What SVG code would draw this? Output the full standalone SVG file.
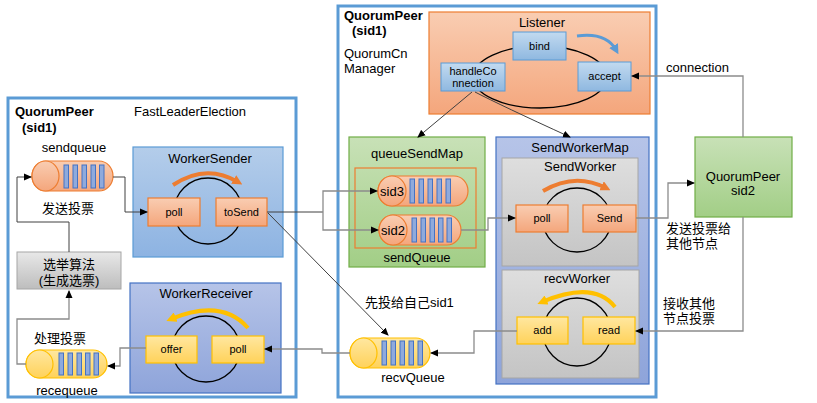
<svg xmlns="http://www.w3.org/2000/svg" width="817" height="403" viewBox="0 0 817 403">
<defs>
<linearGradient id="gOr" x1="0" y1="0" x2="0" y2="1"><stop offset="0" stop-color="#f9cdb2"/><stop offset="1" stop-color="#f4a67c"/></linearGradient>
<linearGradient id="gBl" x1="0" y1="0" x2="0" y2="1"><stop offset="0" stop-color="#b4cdea"/><stop offset="1" stop-color="#8db3e2"/></linearGradient>
<linearGradient id="gPu" x1="0" y1="0" x2="0" y2="1"><stop offset="0" stop-color="#b6c4e8"/><stop offset="1" stop-color="#8ea4da"/></linearGradient>
<linearGradient id="gGr" x1="0" y1="0" x2="0" y2="1"><stop offset="0" stop-color="#dedede"/><stop offset="1" stop-color="#c4c4c4"/></linearGradient>
<linearGradient id="gGn" x1="0" y1="0" x2="0" y2="1"><stop offset="0" stop-color="#c8e1b7"/><stop offset="1" stop-color="#a2ce86"/></linearGradient>
<linearGradient id="gYe" x1="0" y1="0" x2="0" y2="1"><stop offset="0" stop-color="#ffe7a0"/><stop offset="1" stop-color="#ffd25a"/></linearGradient>
<linearGradient id="gSb" x1="0" y1="0" x2="0" y2="1"><stop offset="0" stop-color="#c2daf0"/><stop offset="1" stop-color="#8fb8e0"/></linearGradient>
<linearGradient id="gGb" x1="0" y1="0" x2="0" y2="1"><stop offset="0" stop-color="#e8e8e8"/><stop offset="1" stop-color="#bdbdbd"/></linearGradient>
<marker id="arr" markerWidth="8" markerHeight="8" refX="7" refY="4" orient="auto" markerUnits="userSpaceOnUse"><path d="M0,0.5 L8,4 L0,7.5 z" fill="#000"/></marker>
<marker id="arrO" markerWidth="10" markerHeight="10" refX="5" refY="5" orient="auto" markerUnits="userSpaceOnUse"><path d="M0,0 L10,5 L0,10 z" fill="#ed7d31"/></marker>
<marker id="arrY" markerWidth="10" markerHeight="10" refX="5" refY="5" orient="auto" markerUnits="userSpaceOnUse"><path d="M0,0 L10,5 L0,10 z" fill="#ffc000"/></marker>
<marker id="arrB" markerWidth="10" markerHeight="10" refX="5" refY="5" orient="auto" markerUnits="userSpaceOnUse"><path d="M0,0 L10,5 L0,10 z" fill="#5b9bd5"/></marker>
</defs>
<style>
text{font-family:"Liberation Sans","Noto Sans CJK SC",Arial,sans-serif;fill:#000}
.t13{font-size:13px}
.b13{font-size:13px;font-weight:bold}
.t11{font-size:11px}
.c{text-anchor:middle}
.outer{fill:#fff;stroke:#5b9bd5;stroke-width:3}
.or{fill:url(#gOr);stroke:#ed7d31;stroke-width:1.2}
.ye{fill:url(#gYe);stroke:#ffc000;stroke-width:1.2}
.sb{fill:url(#gSb);stroke:#5b9bd5;stroke-width:1}
.bar{fill:#8faadc;stroke:#4472c4;stroke-width:1}
.loop{fill:none;stroke:#000;stroke-width:1.3}
.ln{fill:none;stroke:#404040;stroke-width:1}
.lg{fill:none;stroke:#8c8c8c;stroke-width:1.3}
</style>

<g id="left-frame">
<rect class="outer" x="8" y="98" width="288" height="299"/>
<text class="b13" x="15" y="116">QuorumPeer</text>
<text class="b13" x="22" y="132">(sid1)</text>
<text class="t13" x="134" y="116">FastLeaderElection</text>
</g>

<g id="mid-frame">
<rect class="outer" x="338" y="6" width="318" height="391"/>
<text class="b13" x="344" y="20">QuorumPeer</text>
<text class="b13" x="352" y="35">(sid1)</text>
<text class="t13" x="344" y="58">QuorumCn</text>
<text class="t13" x="344" y="73">Manager</text>
</g>

<g id="sendqueue">
<text class="t13 c" x="74" y="152">sendqueue</text>
<rect class="or" x="32" y="161" width="81" height="30" rx="14" ry="15"/>
<ellipse class="or" cx="45.5" cy="176" rx="13.5" ry="15"/>
<rect class="bar" x="64" y="165" width="4.5" height="23"/>
<rect class="bar" x="73" y="165" width="4.5" height="23"/>
<rect class="bar" x="82" y="165" width="4.5" height="23"/>
<rect class="bar" x="91" y="165" width="4.5" height="23"/>
<rect class="bar" x="99.5" y="165" width="4.5" height="23"/>
</g>

<g id="label-send">
<text class="t13" x="42" y="213">发送投票</text>
</g>

<g id="election">
<rect x="17" y="252" width="104" height="37" fill="url(#gGb)" stroke="#a6a6a6" stroke-width="1"/>
<text class="t13 c" x="69" y="269">选举算法</text>
<text class="t13 c" x="69" y="285">(生成选票)</text>
</g>

<g id="label-handle">
<text class="t13" x="34" y="343">处理投票</text>
</g>

<g id="recequeue">
<rect class="ye" x="26" y="350" width="81" height="28" rx="14" ry="14"/>
<ellipse class="ye" cx="39.5" cy="364" rx="13.5" ry="14"/>
<rect class="bar" x="59" y="353" width="4.5" height="22"/>
<rect class="bar" x="68" y="353" width="4.5" height="22"/>
<rect class="bar" x="77" y="353" width="4.5" height="22"/>
<rect class="bar" x="85.5" y="353" width="4.5" height="22"/>
<rect class="bar" x="94" y="353" width="4.5" height="22"/>
<text class="t13 c" x="67" y="395">recequeue</text>
</g>

<g id="WorkerSender">
<rect x="133" y="147" width="150" height="110" fill="url(#gBl)" stroke="#5b9bd5" stroke-width="1.2"/>
<text class="t13 c" x="210" y="163">WorkerSender</text>
<ellipse class="loop" cx="208" cy="211" rx="34" ry="33"/>
<path d="M173,185 Q206,163 238,182" fill="none" stroke="#ed7d31" stroke-width="4" marker-end="url(#arrO)"/>
<rect class="or" x="148" y="198" width="52" height="28"/>
<text class="t11 c" x="174" y="216">poll</text>
<rect class="or" x="216" y="198" width="51" height="28"/>
<text class="t11 c" x="241.5" y="216">toSend</text>
</g>

<g id="WorkerReceiver">
<rect x="130" y="283" width="151" height="110" fill="url(#gPu)" stroke="#4472c4" stroke-width="1.2"/>
<text class="t13 c" x="206" y="298">WorkerReceiver</text>
<ellipse class="loop" cx="206" cy="349" rx="34" ry="33"/>
<path d="M248,328 Q222,298 171,319" fill="none" stroke="#ffc000" stroke-width="4" marker-end="url(#arrY)"/>
<rect class="ye" x="146" y="336" width="51" height="27"/>
<text class="t11 c" x="171.5" y="353">offer</text>
<rect class="ye" x="212" y="336" width="52" height="27"/>
<text class="t11 c" x="238" y="353">poll</text>
</g>

<g id="Listener">
<rect x="429" y="12" width="221" height="102" fill="url(#gOr)" stroke="#ed7d31" stroke-width="1.2"/>
<text class="t13 c" x="542" y="27">Listener</text>
<ellipse class="loop" cx="540" cy="77" rx="67" ry="31"/>
<path d="M577,36 Q606,32 616,50" fill="none" stroke="#5b9bd5" stroke-width="3" marker-end="url(#arrB)"/>
<rect class="sb" x="513" y="32" width="53" height="28"/>
<text class="t11 c" x="539.5" y="50">bind</text>
<rect class="sb" x="441" y="63" width="64" height="28"/>
<text class="t11 c" x="473" y="75">handleCo</text>
<text class="t11 c" x="473" y="87">nnection</text>
<rect class="sb" x="578" y="62" width="53" height="29"/>
<text class="t11 c" x="604.5" y="80">accept</text>
</g>

<g id="queueSendMap">
<rect x="349" y="137" width="136" height="130" fill="url(#gGn)" stroke="#70ad47" stroke-width="1.2"/>
<text class="t13 c" x="417" y="158">queueSendMap</text>
<rect x="355" y="168" width="121" height="80" fill="none" stroke="#ed7d31" stroke-width="1.2"/>
<text class="t13 c" x="417" y="262">sendQueue</text>
</g>

<g id="sid3">
<rect class="or" x="378" y="176" width="90" height="30" rx="14" ry="15"/>
<ellipse class="or" cx="392" cy="191" rx="14" ry="15"/>
<rect class="bar" x="410" y="179" width="4.5" height="24"/>
<rect class="bar" x="419" y="179" width="4.5" height="24"/>
<rect class="bar" x="428" y="179" width="4.5" height="24"/>
<rect class="bar" x="437" y="179" width="4.5" height="24"/>
<rect class="bar" x="446" y="179" width="4.5" height="24"/>
<text class="t13 c" x="392" y="196">sid3</text>
</g>

<g id="sid2">
<rect class="or" x="379" y="215" width="82" height="30" rx="14" ry="15"/>
<ellipse class="or" cx="393" cy="230" rx="14" ry="15"/>
<rect class="bar" x="412" y="218" width="4.5" height="24"/>
<rect class="bar" x="421" y="218" width="4.5" height="24"/>
<rect class="bar" x="430" y="218" width="4.5" height="24"/>
<rect class="bar" x="438.5" y="218" width="4.5" height="24"/>
<rect class="bar" x="447" y="218" width="4.5" height="24"/>
<text class="t13 c" x="393" y="235">sid2</text>
</g>

<g id="recvQueue">
<rect class="ye" x="350" y="338" width="80" height="30" rx="14" ry="15"/>
<ellipse class="ye" cx="363.5" cy="353" rx="13.5" ry="15"/>
<rect class="bar" x="382" y="341" width="4.5" height="24"/>
<rect class="bar" x="391" y="341" width="4.5" height="24"/>
<rect class="bar" x="400" y="341" width="4.5" height="24"/>
<rect class="bar" x="409" y="341" width="4.5" height="24"/>
<rect class="bar" x="418" y="341" width="4.5" height="24"/>
<text class="t13 c" x="413" y="382">recvQueue</text>
</g>

<g id="label-self">
<text class="t13" x="365" y="307">先投给自己sid1</text>
</g>

<g id="SendWorkerMap">
<rect x="496" y="137" width="153" height="247" fill="url(#gPu)" stroke="#4472c4" stroke-width="1.2"/>
<text class="t13 c" x="580" y="152">SendWorkerMap</text>
</g>

<g id="SendWorker">
<rect x="502" y="158" width="136" height="108" fill="url(#gGr)" stroke="#a6a6a6" stroke-width="1"/>
<text class="t13 c" x="580" y="171">SendWorker</text>
<ellipse class="loop" cx="577" cy="220" rx="34" ry="32"/>
<path d="M543,191 Q575,172 606,188" fill="none" stroke="#ed7d31" stroke-width="4" marker-end="url(#arrO)"/>
<rect class="or" x="516" y="205" width="52" height="27"/>
<text class="t11 c" x="542" y="222">poll</text>
<rect class="or" x="583" y="205" width="53" height="27"/>
<text class="t11 c" x="609.5" y="222">Send</text>
</g>

<g id="recvWorker">
<rect x="502" y="270" width="137" height="108" fill="url(#gGr)" stroke="#a6a6a6" stroke-width="1"/>
<text class="t13 c" x="577" y="283">recvWorker</text>
<ellipse class="loop" cx="577" cy="332" rx="34" ry="34"/>
<path d="M615,307 Q594,280 542,302" fill="none" stroke="#ffc000" stroke-width="4" marker-end="url(#arrY)"/>
<rect class="ye" x="517" y="317" width="51" height="27"/>
<text class="t11 c" x="542.5" y="334">add</text>
<rect class="ye" x="583" y="317" width="52" height="27"/>
<text class="t11 c" x="609" y="334">read</text>
</g>

<g id="QuorumPeer-sid2">
<rect x="695" y="137" width="97" height="80" fill="url(#gGn)" stroke="#70ad47" stroke-width="1.2"/>
<text class="t13 c" x="743" y="181">QuorumPeer</text>
<text class="t13 c" x="743" y="195">sid2</text>
</g>

<g id="labels-right">
<text class="t13" x="666" y="72">connection</text>
<text class="t13" x="666" y="233">发送投票给</text>
<text class="t13" x="666" y="248">其他节点</text>
<text class="t13" x="663" y="308">接收其他</text>
<text class="t13" x="663" y="323">节点投票</text>
</g>

<g id="connectors">
<path class="ln" d="M113,177 H125 V212 H147" marker-end="url(#arr)"/>
<path class="ln" d="M69,252 V222 H17 V177 H31" marker-end="url(#arr)"/>
<path class="lg" d="M26,364 H17 V319 H69 V291" marker-end="url(#arr)"/>
<path class="lg" d="M146,348 H120 V366 H108" marker-end="url(#arr)"/>
<path class="lg" d="M350,353 H322 V349 H265" marker-end="url(#arr)"/>
<path class="ln" d="M267,212 H323"/>
<path class="lg" d="M323,212 V191 H377" marker-end="url(#arr)"/>
<path class="lg" d="M323,212 V230 H378" marker-end="url(#arr)"/>
<path class="ln" d="M268,213 L388,335" marker-end="url(#arr)"/>
<path class="ln" d="M472,92 L418,137" marker-end="url(#arr)"/>
<path class="ln" d="M475,92 Q500,105 570,137" marker-end="url(#arr)"/>
<path class="lg" d="M743,137 V76 H632" marker-end="url(#arr)"/>
<path class="lg" d="M461,230 H488 V218 H515" marker-end="url(#arr)"/>
<path class="lg" d="M636,218 H668 V183 H694" marker-end="url(#arr)"/>
<path class="lg" d="M743,217 V331 H636" marker-end="url(#arr)"/>
<path class="lg" d="M517,331 H474 V353 H431" marker-end="url(#arr)"/>
</g>
</svg>
